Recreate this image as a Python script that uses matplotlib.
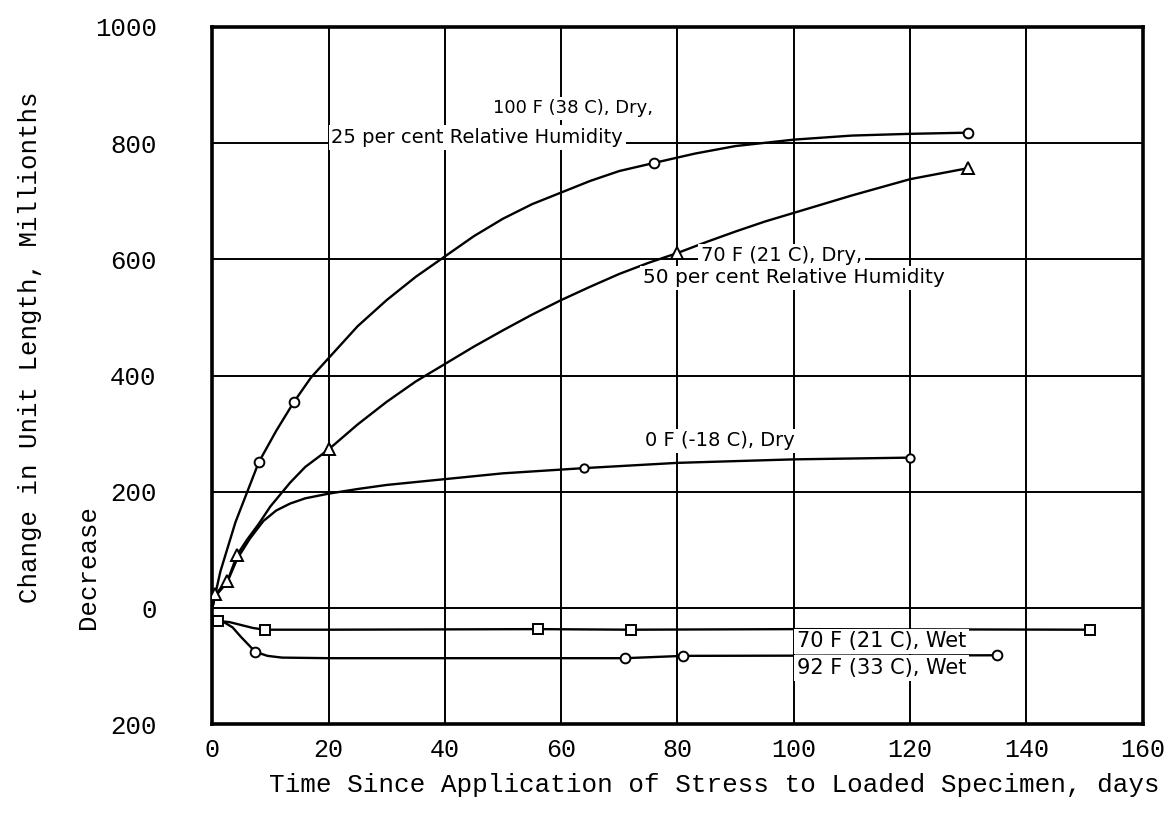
import numpy as np
import matplotlib.pyplot as plt

# curve traces (days, millionths; negative = increase)
dry100_days = [0, 1.4, 4, 8, 11, 14, 17, 20, 25, 30, 35, 40, 45, 50, 55, 60, 65, 70, 76, 83, 90, 100, 110, 120, 130]
dry100_vals = [0, 63, 148, 251, 305, 354, 397, 430, 485, 530, 570, 605, 640, 670, 695, 715, 735, 752, 766, 782, 795, 806, 813, 816, 818]
dry100_mark_days = [8, 14, 76, 130]
dry100_mark_vals = [251, 354, 766, 818]

dry70_days = [0, 0.5, 2.6, 4.3, 6, 8, 10, 13.4, 16, 20, 25, 30, 35, 40, 45, 50, 55, 60, 65, 70, 75, 80, 85, 90, 95, 100, 110, 120, 130]
dry70_vals = [0, 24, 46, 92, 118, 145, 175, 216, 243, 273, 316, 355, 390, 420, 450, 478, 505, 530, 553, 575, 594, 611, 630, 648, 665, 680, 710, 738, 757]
dry70_mark_days = [0.5, 2.6, 4.3, 20, 80, 130]
dry70_mark_vals = [24, 46, 92, 273, 611, 757]

dry0_days = [0, 0.5, 2.6, 4.3, 6.5, 8.8, 11, 13.4, 16, 20, 25, 30, 40, 50, 64, 80, 100, 120]
dry0_vals = [0, 20, 45, 85, 120, 150, 168, 180, 189, 197, 205, 212, 222, 232, 241, 250, 256, 259]
dry0_mark_days = [64, 120]
dry0_mark_vals = [241, 259]

wet70_days = [0, 1, 3, 5, 7, 9, 20, 56, 72, 100, 151]
wet70_vals = [-20, -22, -24, -29, -34, -37, -37, -36, -37, -36, -37]
wet70_mark_days = [1, 9, 56, 72, 151]
wet70_mark_vals = [-22, -37, -36, -37, -37]

wet92_days = [0, 2, 3.5, 5, 7.4, 9.5, 12, 20, 71, 81, 135]
wet92_vals = [-20, -24, -33, -50, -75, -82, -85, -86, -86, -82, -81]
wet92_mark_days = [7.4, 71, 81, 135]
wet92_mark_vals = [-75, -86, -82, -81]

xticks = [0, 20, 40, 60, 80, 100, 120, 140, 160]
yticks = [-200, 0, 200, 400, 600, 800, 1000]
ylabels = ['200', '0', '200', '400', '600', '800', '1000']

mono = 'Liberation Mono'
sans = 'DejaVu Sans'

fig = plt.figure(figsize=(11.66, 8.14), dpi=100)
ax = fig.add_axes([0.182, 0.110, 0.798, 0.857])
ax.set_xlim(0, 160)
ax.set_ylim(-200, 1000)

# grid
for v in [0, 200, 400, 600, 800]:
    ax.axhline(v, color='k', lw=1.4, zorder=1)
for d in xticks[1:-1]:
    ax.axvline(d, color='k', lw=1.4, zorder=1)

# curves
ax.plot(dry100_days, dry100_vals, color='k', lw=1.7, zorder=3)
ax.plot(dry70_days, dry70_vals, color='k', lw=1.7, zorder=3)
ax.plot(dry0_days, dry0_vals, color='k', lw=1.7, zorder=3)
ax.plot(wet70_days, wet70_vals, color='k', lw=1.7, zorder=3)
ax.plot(wet92_days, wet92_vals, color='k', lw=1.7, zorder=3)

mk = dict(mfc='white', mec='k', mew=1.4, ls='none', zorder=5)
ax.plot(dry100_mark_days, dry100_mark_vals, 'o', ms=7, **mk)
ax.plot(dry70_mark_days, dry70_mark_vals, '^', ms=9, **mk)
ax.plot(dry0_mark_days, dry0_mark_vals, 'o', ms=6, **mk)
ax.plot(wet70_mark_days, wet70_mark_vals, 's', ms=7, **mk)
ax.plot(wet92_mark_days, wet92_mark_vals, 'o', ms=7, **mk)

# curve labels (white boxes break the grid like the original)
box = dict(facecolor='white', edgecolor='none', pad=2)
tk = dict(family=sans, zorder=4, bbox=box, va='center')
ax.text(62, 860, '100 F (38 C), Dry,', ha='center', fontsize=13, **tk)
ax.text(20.5, 810, '25 per cent Relative Humidity', ha='left', fontsize=14, **tk)
ax.text(84, 606, '70 F (21 C), Dry,', ha='left', fontsize=14, **tk)
ax.text(74, 568, '50 per cent Relative Humidity', ha='left', fontsize=14.5, **tk)
ax.text(74.5, 288, '0 F (-18 C), Dry', ha='left', fontsize=14, **tk)
ax.text(100.5, -57, '70 F (21 C), Wet', ha='left', fontsize=15, **tk)
ax.text(100.5, -103, '92 F (33 C), Wet', ha='left', fontsize=15, **tk)

# axes styling
for s in ax.spines.values():
    s.set_linewidth(2.6)
ax.set_xticks(xticks)
ax.set_xticklabels([str(t) for t in xticks], family=mono, fontsize=18)
ax.set_yticks(yticks)
ax.set_yticklabels(ylabels, family=mono, fontsize=18.5)
ax.tick_params(axis='x', length=0, pad=10)
ax.tick_params(axis='y', length=0, pad=40)

fig.text(0.613, 0.036, 'Time Since Application of Stress to Loaded Specimen, days',
         ha='center', va='center', family=mono, fontsize=18.7)
fig.text(0.026, 0.574, 'Change in Unit Length, Millionths', rotation=90,
         ha='center', va='center', family=mono, fontsize=18.5)
fig.text(0.0755, 0.303, 'Decrease', rotation=90,
         ha='center', va='center', family=mono, fontsize=18.5)

plt.savefig('out.png', dpi=100)
